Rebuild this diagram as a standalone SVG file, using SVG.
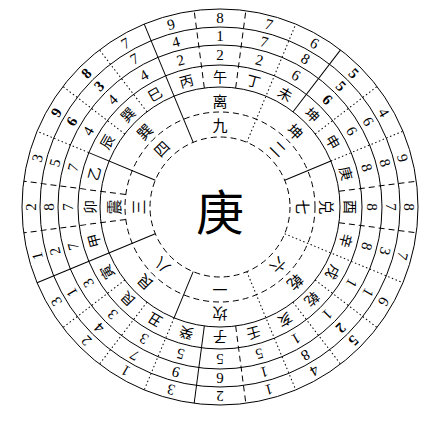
<svg xmlns="http://www.w3.org/2000/svg" width="432" height="426" viewBox="0 0 432 426">
<style>
.s{stroke:#000;stroke-width:1;fill:none}
.dt{stroke:#000;stroke-width:1;fill:none;stroke-dasharray:1.5 2.5}
.da{stroke:#000;stroke-width:1;fill:none;stroke-dasharray:6 4}
.c{font-family:"Noto Sans CJK SC",sans-serif;font-size:14px;text-anchor:middle;dominant-baseline:central;fill:#000}
.t{font-family:"Noto Sans CJK SC",sans-serif;font-size:15px;text-anchor:middle;dominant-baseline:central;fill:#000}
.d{font-family:"Liberation Serif",serif;font-size:15px;text-anchor:middle;dominant-baseline:central;fill:#000}
.b{font-weight:bold}
</style>
<rect width="432" height="426" fill="#fff"/>
<g id="rings">
<circle class="s" cx="220" cy="207" r="198"/>
<circle class="s" cx="220" cy="207" r="180"/>
<circle class="s" cx="220" cy="207" r="162"/>
<circle class="s" cx="220" cy="207" r="142"/>
<circle class="s" cx="220" cy="207" r="120"/>
<circle class="da" cx="220" cy="207" r="95"/>
<circle class="da" cx="220" cy="207" r="70"/>
</g>
<g id="connectors">
<line class="s" x1="220" y1="137" x2="220" y2="9" transform="rotate(337.5 220 207)"/>
<line class="s" x1="220" y1="137" x2="220" y2="9" transform="rotate(247.5 220 207)"/>
<line class="s" x1="220" y1="137" x2="220" y2="87" transform="rotate(67.5 220 207)"/>
<line class="dt" x1="220" y1="87" x2="220" y2="9" transform="rotate(67.5 220 207)"/>
<line class="s" x1="220" y1="137" x2="220" y2="87" transform="rotate(202.5 220 207)"/>
<line class="dt" x1="220" y1="87" x2="220" y2="9" transform="rotate(202.5 220 207)"/>
<line class="s" x1="220" y1="137" x2="220" y2="65" transform="rotate(292.5 220 207)"/>
<line class="dt" x1="220" y1="65" x2="220" y2="9" transform="rotate(292.5 220 207)"/>
<line class="dt" x1="220" y1="137" x2="220" y2="9" transform="rotate(22.5 220 207)"/>
<line class="dt" x1="220" y1="137" x2="220" y2="9" transform="rotate(157.5 220 207)"/>
<line class="dt" x1="220" y1="137" x2="220" y2="9" transform="rotate(112.5 220 207)"/>
<line class="da" x1="220" y1="87" x2="220" y2="9" transform="rotate(352.5 220 207)"/>
<line class="da" x1="220" y1="87" x2="220" y2="9" transform="rotate(7.5 220 207)"/>
<line class="da" x1="220" y1="87" x2="220" y2="9" transform="rotate(82.5 220 207)"/>
<line class="da" x1="220" y1="87" x2="220" y2="9" transform="rotate(97.5 220 207)"/>
<line class="da" x1="220" y1="87" x2="220" y2="9" transform="rotate(172.5 220 207)"/>
<line class="s" x1="220" y1="87" x2="220" y2="9" transform="rotate(187.5 220 207)"/>
<line class="da" x1="220" y1="112" x2="220" y2="9" transform="rotate(262.5 220 207)"/>
<line class="da" x1="220" y1="112" x2="220" y2="9" transform="rotate(277.5 220 207)"/>
<line class="s" x1="220" y1="87" x2="220" y2="9" transform="rotate(37.5 220 207)"/>
<line class="dt" x1="220" y1="87" x2="220" y2="9" transform="rotate(52.5 220 207)"/>
<line class="dt" x1="220" y1="87" x2="220" y2="9" transform="rotate(127.5 220 207)"/>
<line class="dt" x1="220" y1="87" x2="220" y2="9" transform="rotate(142.5 220 207)"/>
<line class="dt" x1="220" y1="87" x2="220" y2="9" transform="rotate(217.5 220 207)"/>
<line class="dt" x1="220" y1="87" x2="220" y2="9" transform="rotate(232.5 220 207)"/>
<line class="dt" x1="220" y1="87" x2="220" y2="9" transform="rotate(307.5 220 207)"/>
<line class="dt" x1="220" y1="87" x2="220" y2="9" transform="rotate(322.5 220 207)"/>
</g>
<g id="center"><text x="220" y="209" style="font-family:'Noto Sans CJK SC',sans-serif;font-size:48px;text-anchor:middle;dominant-baseline:central">庚</text></g>
<g id="luoshu">
<text class="t" x="220" y="124" transform="rotate(0 220 207)">九</text>
<text class="t" x="220" y="124" transform="rotate(45 220 207)">二</text>
<text class="t" x="220" y="124" transform="rotate(90 220 207)">七</text>
<text class="t" x="220" y="124" transform="rotate(135 220 207)">六</text>
<text class="t" x="220" y="124" transform="rotate(180 220 207)">一</text>
<text class="t" x="220" y="124" transform="rotate(225 220 207)">八</text>
<text class="t" x="220" y="124" transform="rotate(270 220 207)">三</text>
<text class="t" x="220" y="124" transform="rotate(315 220 207)">四</text>
</g>
<g id="trigrams">
<text class="t" x="220" y="100" transform="rotate(0 220 207)">离</text>
<text class="t" x="220" y="100" transform="rotate(45 220 207)">坤</text>
<text class="t" x="220" y="100" transform="rotate(90 220 207)">兑</text>
<text class="t" x="220" y="100" transform="rotate(135 220 207)">乾</text>
<text class="t" x="220" y="100" transform="rotate(180 220 207)">坎</text>
<text class="t" x="220" y="100" transform="rotate(225 220 207)">艮</text>
<text class="t" x="220" y="100" transform="rotate(270 220 207)">震</text>
<text class="t" x="220" y="100" transform="rotate(315 220 207)">巽</text>
</g>
<g id="mountains">
<text class="c" x="220" y="76" transform="rotate(0 220 207)">午</text>
<text class="c" x="220" y="76" transform="rotate(15 220 207)">丁</text>
<text class="c" x="220" y="76" transform="rotate(30 220 207)">未</text>
<text class="c" x="220" y="76" transform="rotate(45 220 207)">坤</text>
<text class="c" x="220" y="76" transform="rotate(60 220 207)">申</text>
<text class="c" x="220" y="76" transform="rotate(75 220 207)">庚</text>
<text class="c" x="220" y="76" transform="rotate(90 220 207)">酉</text>
<text class="c" x="220" y="76" transform="rotate(105 220 207)">辛</text>
<text class="c" x="220" y="76" transform="rotate(120 220 207)">戌</text>
<text class="c" x="220" y="76" transform="rotate(135 220 207)">乾</text>
<text class="c" x="220" y="76" transform="rotate(150 220 207)">亥</text>
<text class="c" x="220" y="76" transform="rotate(165 220 207)">壬</text>
<text class="c" x="220" y="76" transform="rotate(180 220 207)">子</text>
<text class="c" x="220" y="76" transform="rotate(195 220 207)">癸</text>
<text class="c" x="220" y="76" transform="rotate(210 220 207)">丑</text>
<text class="c" x="220" y="76" transform="rotate(225 220 207)">艮</text>
<text class="c" x="220" y="76" transform="rotate(240 220 207)">寅</text>
<text class="c" x="220" y="76" transform="rotate(255 220 207)">甲</text>
<text class="c" x="220" y="76" transform="rotate(270 220 207)">卯</text>
<text class="c" x="220" y="76" transform="rotate(285 220 207)">乙</text>
<text class="c" x="220" y="76" transform="rotate(300 220 207)">辰</text>
<text class="c" x="220" y="76" transform="rotate(315 220 207)">巽</text>
<text class="c" x="220" y="76" transform="rotate(330 220 207)">巳</text>
<text class="c" x="220" y="76" transform="rotate(345 220 207)">丙</text>
</g>
<g id="numbers">
<g transform="rotate(0 220 207)"><text class="d" x="220" y="55">2</text><text class="d" x="220" y="36">1</text><text class="d" x="220" y="18">8</text></g>
<g transform="rotate(15 220 207)"><text class="d" x="220" y="55">2</text><text class="d" x="220" y="36">7</text><text class="d" x="220" y="18">7</text></g>
<g transform="rotate(30 220 207)"><text class="d" x="220" y="55">6</text><text class="d" x="220" y="36">8</text><text class="d" x="220" y="18">6</text></g>
<g transform="rotate(45 220 207)"><text class="d b" x="220" y="55">6</text><text class="d b" x="220" y="36">5</text><text class="d b" x="220" y="18">5</text></g>
<g transform="rotate(60 220 207)"><text class="d" x="220" y="55">6</text><text class="d" x="220" y="36">6</text><text class="d" x="220" y="18">4</text></g>
<g transform="rotate(75 220 207)"><text class="d" x="220" y="55">8</text><text class="d" x="220" y="36">8</text><text class="d" x="220" y="18">9</text></g>
<g transform="rotate(90 220 207)"><text class="d" x="220" y="55">8</text><text class="d" x="220" y="36">7</text><text class="d" x="220" y="18">8</text></g>
<g transform="rotate(105 220 207)"><text class="d" x="220" y="55">8</text><text class="d" x="220" y="36">3</text><text class="d" x="220" y="18">7</text></g>
<g transform="rotate(120 220 207)"><text class="d" x="220" y="55">1</text><text class="d" x="220" y="36">1</text><text class="d" x="220" y="18">6</text></g>
<g transform="rotate(135 220 207)"><text class="d" x="220" y="55">1</text><text class="d b" x="220" y="36">2</text><text class="d b" x="220" y="18">5</text></g>
<g transform="rotate(150 220 207)"><text class="d" x="220" y="55">1</text><text class="d" x="220" y="36">8</text><text class="d" x="220" y="18">4</text></g>
<g transform="rotate(165 220 207)"><text class="d" x="220" y="55">5</text><text class="d" x="220" y="36">1</text><text class="d" x="220" y="18">1</text></g>
<g transform="rotate(180 220 207)"><text class="d" x="220" y="55">5</text><text class="d" x="220" y="36">6</text><text class="d" x="220" y="18">2</text></g>
<g transform="rotate(195 220 207)"><text class="d" x="220" y="55">5</text><text class="d" x="220" y="36">9</text><text class="d" x="220" y="18">3</text></g>
<g transform="rotate(210 220 207)"><text class="d" x="220" y="55">3</text><text class="d" x="220" y="36">7</text><text class="d" x="220" y="18">1</text></g>
<g transform="rotate(225 220 207)"><text class="d" x="220" y="55">3</text><text class="d" x="220" y="36">4</text><text class="d" x="220" y="18">2</text></g>
<g transform="rotate(240 220 207)"><text class="d" x="220" y="55">3</text><text class="d" x="220" y="36">1</text><text class="d" x="220" y="18">3</text></g>
<g transform="rotate(255 220 207)"><text class="d" x="220" y="55">7</text><text class="d" x="220" y="36">2</text><text class="d" x="220" y="18">1</text></g>
<g transform="rotate(270 220 207)"><text class="d" x="220" y="55">7</text><text class="d" x="220" y="36">8</text><text class="d" x="220" y="18">2</text></g>
<g transform="rotate(285 220 207)"><text class="d" x="220" y="55">7</text><text class="d" x="220" y="36">5</text><text class="d" x="220" y="18">3</text></g>
<g transform="rotate(300 220 207)"><text class="d" x="220" y="55">4</text><text class="d b" x="220" y="36">6</text><text class="d b" x="220" y="18">9</text></g>
<g transform="rotate(315 220 207)"><text class="d" x="220" y="55">4</text><text class="d b" x="220" y="36">3</text><text class="d b" x="220" y="18">8</text></g>
<g transform="rotate(330 220 207)"><text class="d" x="220" y="55">4</text><text class="d" x="220" y="36">7</text><text class="d" x="220" y="18">7</text></g>
<g transform="rotate(345 220 207)"><text class="d" x="220" y="55">2</text><text class="d" x="220" y="36">4</text><text class="d" x="220" y="18">9</text></g>
</g>
</svg>
